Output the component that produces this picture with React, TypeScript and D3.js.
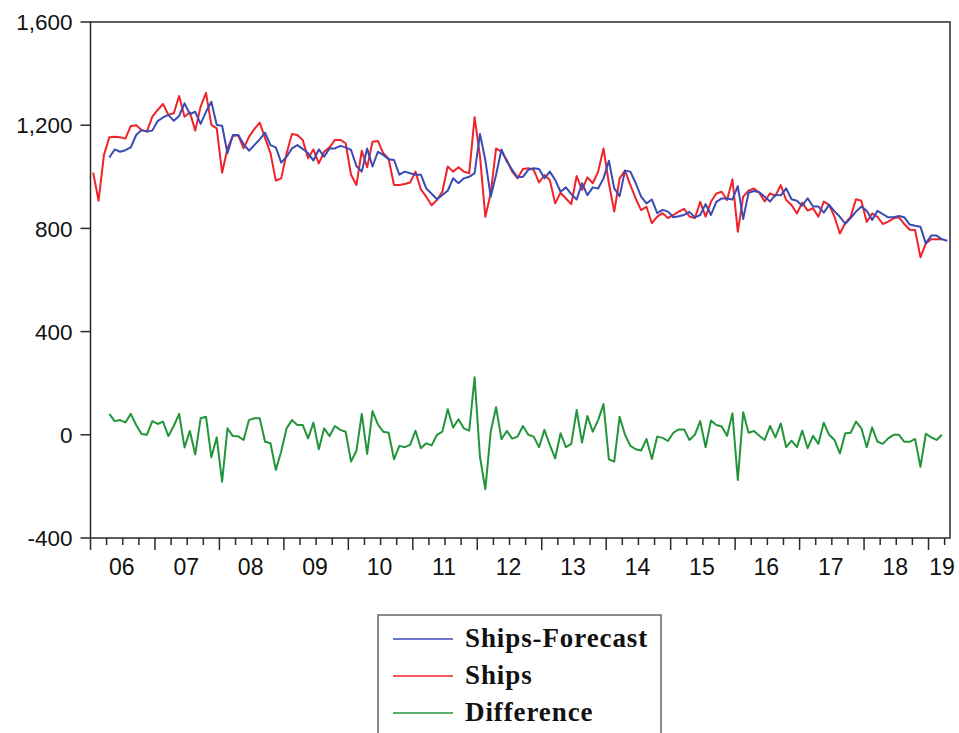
import React from 'react';
import * as d3 from 'd3';

const W = 959;
const H = 733;

// monthly observations, Ships starts 2006M1
const ships = [
  1016, 907, 1084, 1153, 1155, 1153, 1148, 1197, 1200, 1181, 1175, 1233,
  1259, 1282, 1240, 1246, 1313, 1233, 1250, 1179, 1272, 1325, 1201, 1188,
  1016, 1110, 1158, 1161, 1110, 1155, 1185, 1210, 1150, 1092, 985, 994,
  1090, 1166, 1162, 1143, 1072, 1106, 1052, 1097, 1114, 1143, 1143, 1130,
  1008, 968, 1101, 1037, 1136, 1139, 1091, 1070, 968, 968, 972, 978,
  1020, 951, 923, 890, 910, 943, 1040, 1020, 1037, 1020, 1014, 1231,
  1080, 845, 936, 1110, 1097, 1065, 1020, 994, 1030, 1033, 1027, 978,
  1007, 988, 897, 938, 916, 894, 1003, 949, 998, 975, 1020, 1110,
  975, 865, 994, 1024, 968, 915, 871, 884, 820, 846, 859, 840,
  852, 865, 876, 846, 840, 903, 846, 903, 935, 942, 910, 990,
  787, 923, 946, 955, 938, 904, 936, 926, 968, 910, 891, 858,
  900, 869, 878, 845, 904, 891, 845, 780, 820, 845, 913, 907,
  825, 858, 845, 817, 826, 839, 843, 817, 795, 794, 688, 742,
  758, 758, 758,
];

// Ships-Forecast and Difference start 2006M4
const forecast = [
  1075, 1106, 1097, 1103, 1114, 1162, 1181, 1176, 1179,
  1216, 1230, 1240, 1217, 1236, 1285, 1243, 1252, 1205, 1252, 1291, 1201,
  1198, 1091, 1162, 1162, 1127, 1101, 1123, 1145, 1171, 1123, 1114, 1055,
  1078, 1110, 1123, 1108, 1092, 1063, 1106, 1078, 1110, 1110, 1120, 1114,
  1104, 1042, 1020, 1110, 1040, 1097, 1085, 1068, 1065, 1008, 1020, 1014,
  1008, 1008, 955, 934, 913, 930, 946, 994, 975, 994, 1000, 1014,
  1166, 1065, 923, 1008, 1106, 1059, 1027, 998, 1000, 1027, 1033, 1030,
  994, 1020, 988, 942, 959, 933, 912, 975, 929, 959, 955, 994,
  1062, 955, 925, 1024, 1020, 975, 923, 897, 912, 859, 872, 865,
  843, 847, 852, 864, 843, 852, 894, 852, 903, 916, 916, 912,
  964, 836, 938, 945, 940, 923, 904, 930, 928, 955, 913, 907,
  888, 917, 885, 885, 861, 891, 866, 845, 818, 840, 865, 885,
  868, 833, 868, 855, 843, 843, 848, 843, 815, 810, 806, 742,
  772, 772, 758, 752,
];

const difference = [
  81, 53, 57, 48, 81, 38, 3, 0, 53,
  42, 51, -5, 34, 81, -49, 15, -76, 64, 70, -87, -10,
  -182, 25, -5, -6, -20, 57, 64, 64, -27, -33, -136, -65,
  25, 57, 38, 38, -14, 47, -56, 25, -5, 34, 19, 12,
  -104, -62, 81, -74, 92, 40, 12, 8, -95, -43, -48, -39,
  16, -52, -33, -41, 0, 12, 99, 28, 60, 25, 16, 223,
  -85, -211, 12, 107, -17, 15, -15, -7, 34, 0, -7, -48,
  19, -39, -91, 6, -48, -35, 96, -30, 73, 12, 57, 119,
  -95, -104, 70, 0, -43, -56, -61, -16, -94, -7, -12, -24,
  8, 21, 21, -20, 0, 53, -48, 55, 38, 32, -4, 83,
  -175, 87, 8, 15, -4, -20, 34, -10, 44, -48, -23, -48,
  16, -52, -4, -35, 47, 0, -20, -72, 6, 8, 51, 25,
  -48, 29, -27, -35, -14, 0, 0, -27, -27, -16, -124, 4,
  -10, -20, 0,
];

const yearLabels = ['06', '07', '08', '09', '10', '11', '12', '13', '14', '15', '16', '17', '18', '19'];
const yTicks = [-400, 0, 400, 800, 1200, 1600];
const yTickLabels = ['-400', '0', '400', '800', '1,200', '1,600'];
const legendNames = ['Ships-Forecast', 'Ships', 'Difference'];
const seriesColors = ['#3b4bb3', '#ef2329', '#22953a'];

const N_MONTHS = 160; // 2006M1 .. 2019M4
const FORECAST_START = 3;

const margin = { left: 90.5, right: 950, top: 22, bottom: 538 };

export default function App() {
  const x = d3.scaleLinear().domain([0, N_MONTHS]).range([margin.left, margin.right]);
  const y = d3.scaleLinear().domain([-400, 1600]).range([margin.bottom, margin.top]);

  const lineFrom = (offset: number) =>
    d3.line<number>()
      .x((d, i) => x(offset + i + 0.5))
      .y(d => y(d));

  const series = [
    { values: forecast, offset: FORECAST_START },
    { values: ships, offset: 0 },
    { values: difference, offset: FORECAST_START },
  ];

  // quarter ticks, major ones at each January
  const qTicks = d3.range(0, N_MONTHS, 3);

  const axisColor = '#2a2a2a';

  return (
    <svg
      width={W}
      height={H}
      style={{ position: 'absolute', left: 0, top: 0, background: '#fff' }}
      fontFamily="'Liberation Sans', Arial, sans-serif"
    >
      <rect x={0} y={0} width={W} height={H} fill="#fff" />

      {/* data lines: Ships underneath, then forecast, then difference */}
      {[1, 0, 2].map(i => (
        <path
          key={i}
          d={lineFrom(series[i].offset)(series[i].values) || ''}
          fill="none"
          stroke={seriesColors[i]}
          strokeWidth={2}
          strokeLinejoin="round"
        />
      ))}

      {/* frame */}
      <rect
        x={margin.left}
        y={margin.top}
        width={margin.right - margin.left}
        height={margin.bottom - margin.top}
        fill="none"
        stroke={axisColor}
        strokeWidth={1.5}
      />

      {/* y axis */}
      {yTicks.map((t, i) => (
        <g key={t}>
          <line x1={margin.left - 10} x2={margin.left} y1={y(t)} y2={y(t)} stroke={axisColor} strokeWidth={1.5} />
          <text x={margin.left - 18} y={y(t)} dy="0.36em" textAnchor="end" fontSize={22.5} fill="#111">
            {yTickLabels[i]}
          </text>
        </g>
      ))}

      {/* x axis ticks */}
      {qTicks.map(k => (
        <line
          key={k}
          x1={x(k)}
          x2={x(k)}
          y1={margin.bottom}
          y2={margin.bottom + (k % 12 === 0 ? 12 : 7)}
          stroke={axisColor}
          strokeWidth={1.5}
        />
      ))}
      {yearLabels.map((lab, i) => {
        const mid = Math.min(x(i * 12 + 6), margin.right - 7);
        return (
          <text key={lab} x={mid - 1} y={575} textAnchor="middle" fontSize={23} fill="#111">
            {lab}
          </text>
        );
      })}

      {/* legend */}
      <rect x={378} y={615} width={283} height={130} fill="#fff" stroke="#666" strokeWidth={1.5} />
      {legendNames.map((name, i) => (
        <g key={name} transform={`translate(0, ${i * 37})`}>
          <line x1={393} x2={453} y1={639} y2={639} stroke={seriesColors[i]} strokeWidth={1.5} />
          <text
            x={465}
            y={647}
            fontFamily="'Liberation Serif', 'Times New Roman', serif"
            fontWeight="bold"
            fontSize={27}
            letterSpacing={0.9}
            fill="#111"
          >
            {name}
          </text>
        </g>
      ))}
    </svg>
  );
}
